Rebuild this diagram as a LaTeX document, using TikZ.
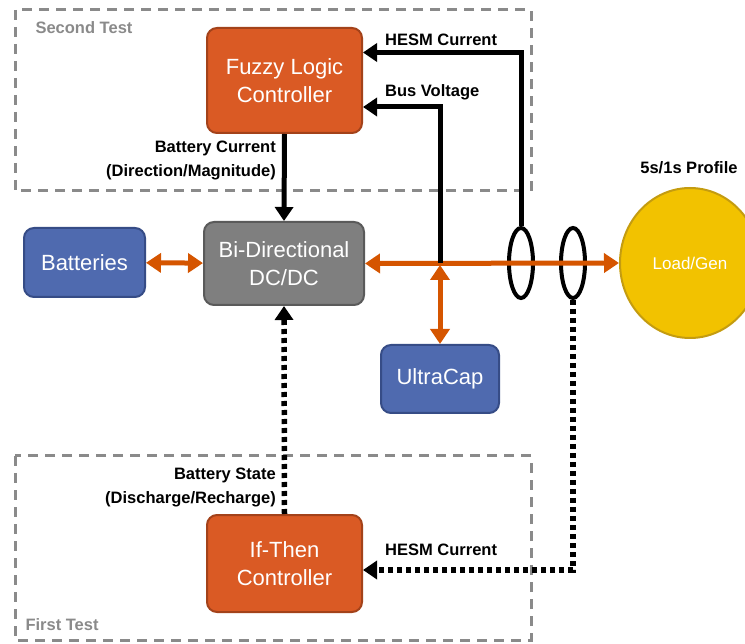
\documentclass[tikz,border=0pt]{standalone}
\usepackage{fontspec}
\setmainfont{Liberation Sans}
\usetikzlibrary{positioning, arrows.meta, shapes.geometric}

\definecolor{ctrlorange}{HTML}{DA5A24}
\definecolor{ctrledge}{HTML}{A3421A}
\definecolor{storeblue}{HTML}{4F6AAF}
\definecolor{storeedge}{HTML}{364C86}
\definecolor{convgray}{HTML}{7F7F7F}
\definecolor{convedge}{HTML}{5A5A5A}
\definecolor{loadyellow}{HTML}{F2C200}
\definecolor{loadedge}{HTML}{C49C10}
\definecolor{busorange}{HTML}{D55500}
\definecolor{testgray}{HTML}{8A8A8A}

\tikzset{
    block/.style = {rounded corners = 10pt, line width = 2pt, text = white, align = center,
                    inner sep = 0pt, font = \fontsize{22}{28}\selectfont},
    ctrl/.style = {block, fill = ctrlorange, draw = ctrledge, minimum width = 155pt},
    store/.style = {block, fill = storeblue, draw = storeedge},
    conv/.style = {block, fill = convgray, draw = convedge},
    sensor/.style = {ellipse, draw, line width = 4pt, minimum width = 24pt,
                     minimum height = 70pt, inner sep = 0pt},
    testbox/.style = {draw = testgray, line width = 3pt, dash pattern = on 10pt off 7pt},
    testname/.style = {text = testgray, font = \bfseries\fontsize{16.5}{19}\selectfont, anchor = west},
    lbl/.style = {font = \bfseries\fontsize{16.5}{24}\selectfont, inner sep = 0pt},
    sig/.style = {line width = 5pt, -{Triangle[length = 14pt, width = 18pt]}},
    dot/.style = {sig, line width = 5.5pt, dash pattern = on 5pt off 4pt},
    pwr/.style = {draw = busorange, line width = 5pt,
                  {Triangle[length = 15pt, width = 19pt]}-{Triangle[length = 15pt, width = 19pt]}}
}

\begin{document}
\begin{tikzpicture}[x = 1pt, y = -1pt]
    \useasboundingbox (0,0) rectangle (745,644);

    % test frames
    \draw[testbox] (15,10) rectangle (531,191);
    \draw[testbox] (15,456) rectangle (531,640);
    \node[testname] (second) at (32,28) {Second Test};
    \node[testname] (first) at (22,625) {First Test};

    % blocks
    \node[ctrl, minimum height = 105pt] (fuzzy) at (284.5,80.5) {Fuzzy Logic\\Controller};
    \node[conv, minimum width = 160pt, minimum height = 83pt] (dcdc) at (284,263.5) {Bi-Directional\\DC/DC};
    \node[store, minimum width = 121pt, minimum height = 69pt] (batt) at (84.5,262.5) {Batteries};
    \node[store, minimum width = 118pt, minimum height = 68pt] (ucap) at (440,379) {UltraCap};
    \node[ctrl, minimum height = 97pt] (ifthen) at (284.5,563.5) {If-Then\\Controller};
    \node[ellipse, fill = loadyellow, draw = loadedge, line width = 2pt, minimum width = 140pt,
          minimum height = 150pt, text = white, font = \fontsize{17}{20}\selectfont] (load) at (690,263) {Load/Gen};
    \node[lbl] (profile) at (689,168) {5s/1s Profile};

    % current sensors
    \node[sensor] (sensA) at (521,263) {};
    \node[sensor] (sensB) at (573,263) {};
    \coordinate (jct) at (440,263);

    % power paths
    \draw[pwr] (batt) -- (dcdc);
    \draw[pwr] (dcdc.east) -- (load.west);
    \draw[pwr] ([yshift = -2pt]jct) -- (ucap.north);

    % second test signals
    \draw[sig] (fuzzy.south) -- (dcdc.north);
    \draw[sig] (jct) |- ([yshift = -26.5pt]fuzzy.east);
    \draw[sig] (sensA.north) |- ([yshift = 28pt]fuzzy.east);
    \node[lbl, anchor = west] (hesmtop) at (385,40) {HESM Current};
    \node[lbl, anchor = west] (busv) at (385,92) {Bus Voltage};
    \node[lbl, anchor = east, align = right] (battcur) at (276,160) {Battery Current\\(Direction/Magnitude)};

    % first test signals
    \draw[dot] (ifthen.north) -- (dcdc.south);
    \draw[dot] (sensB.south) |- ([yshift = -6.5pt]ifthen.east);
    \node[lbl, anchor = west] (hesmlow) at (385,550) {HESM Current};
    \node[lbl, anchor = east, align = right] (battstate) at (276,487) {Battery State\\(Discharge/Recharge)};
\end{tikzpicture}
\end{document}
